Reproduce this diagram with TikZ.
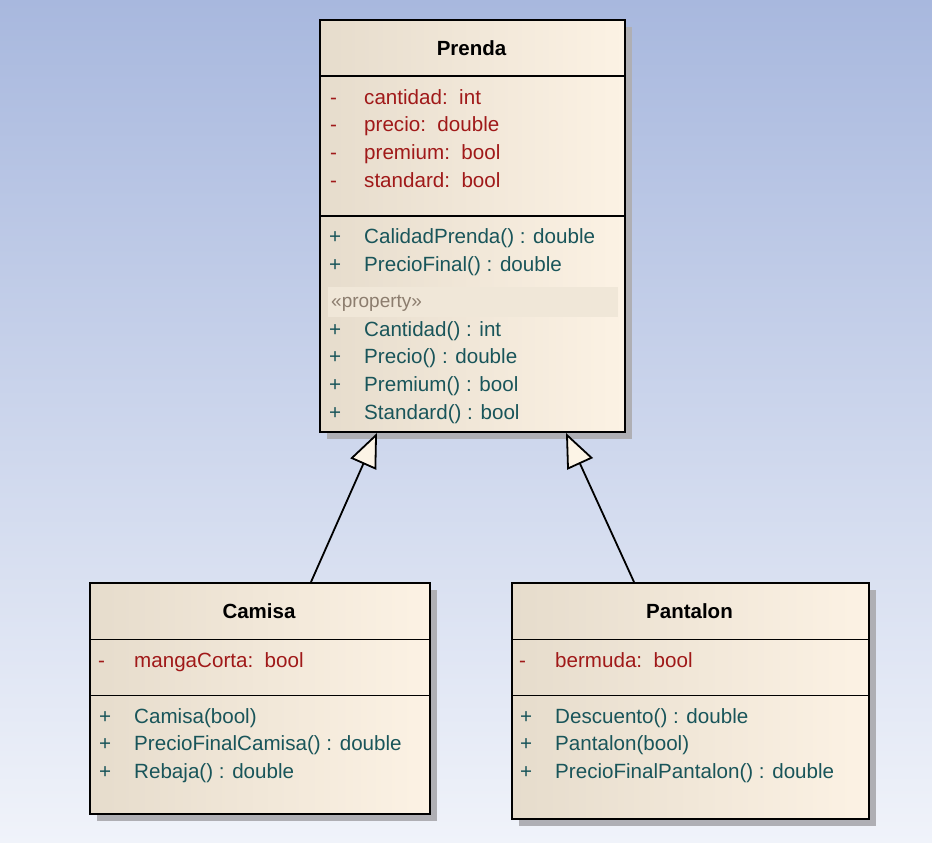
\documentclass[tikz,border=0pt]{standalone}
\usepackage{fontspec}
\setmainfont{Liberation Sans}
\usetikzlibrary{arrows.meta,shadows}
\definecolor{bgtop}{RGB}{168,184,222}
\definecolor{bgbot}{RGB}{240,243,250}
\definecolor{boxleft}{RGB}{230,220,204}
\definecolor{boxright}{RGB}{252,242,228}
\definecolor{attrc}{RGB}{160,25,25}
\definecolor{methc}{RGB}{25,85,90}
\definecolor{propc}{RGB}{140,125,110}
\definecolor{propband}{RGB}{240,231,216}
\definecolor{tipc}{RGB}{252,244,230}
\definecolor{shadowc}{RGB}{175,175,180}
\tikzset{
  classbox/.style={draw=black, line width=2pt, inner sep=0pt, anchor=north west,
    left color=boxleft, right color=boxright,
    drop shadow={shadow xshift=7pt, shadow yshift=-7pt, fill=shadowc, opacity=1}},
  sepline/.style={draw=black, line width=1.9pt},
  txt/.style={anchor=base west, inner sep=0pt, font=\fontsize{20.6}{24}\selectfont},
  ttl/.style={anchor=base, inner sep=0pt, font=\fontsize{20.5}{24}\selectfont\bfseries},
  attr/.style={txt, text=attrc},
  meth/.style={txt, text=methc},
  prop/.style={anchor=base west, inner sep=0pt, text=propc, font=\fontsize{19}{22}\selectfont},
  inherit/.style={draw=black, line width=1.8pt, -{Triangle[length=34pt,width=28pt,fill=tipc]}}
}
\begin{document}
\begin{tikzpicture}[x=1pt,y=-1pt]
\useasboundingbox (0,0) rectangle (932,843);
\shade[top color=bgtop, bottom color=bgbot] (0,0) rectangle (932,843);

% ---------- Prenda ----------
\node[classbox, minimum width=305pt, minimum height=412pt] (prenda) at (319,19) {};
\fill[propband] (328,287) rectangle (618,317);
\draw[sepline] (prenda.west |- 0,76) -- (prenda.east |- 0,76);
\draw[sepline] (prenda.west |- 0,216) -- (prenda.east |- 0,216);
\node[ttl] (prendat) at (471.5,56) {Prenda};
\node[attr] (pa1s) at (330,104) {-};
\node[attr] (pa1) at (364,104) {cantidad:\ \ int};
\node[attr] (pa2s) at (330,131.7) {-};
\node[attr] (pa2) at (364,131.7) {precio:\ \ double};
\node[attr] (pa3s) at (330,159.4) {-};
\node[attr] (pa3) at (364,159.4) {premium:\ \ bool};
\node[attr] (pa4s) at (330,187.1) {-};
\node[attr] (pa4) at (364,187.1) {standard:\ \ bool};
\node[meth] (pm1s) at (329,243) {+};
\node[meth] (pm1) at (364,243) {CalidadPrenda() : double};
\node[meth] (pm2s) at (329,271) {+};
\node[meth] (pm2) at (364,271) {PrecioFinal() : double};
\node[prop] (pprop) at (331,307) {«property»};
\node[meth] (pm3s) at (329,336) {+};
\node[meth] (pm3) at (364,336) {Cantidad() : int};
\node[meth] (pm4s) at (329,363.5) {+};
\node[meth] (pm4) at (364,363.5) {Precio() : double};
\node[meth] (pm5s) at (329,391.5) {+};
\node[meth] (pm5) at (364,391.5) {Premium() : bool};
\node[meth] (pm6s) at (329,419.5) {+};
\node[meth] (pm6) at (364,419.5) {Standard() : bool};

% ---------- Camisa ----------
\node[classbox, minimum width=340pt, minimum height=231pt] (camisa) at (89,582) {};
\draw[sepline] (camisa.west |- 0,639.5) -- (camisa.east |- 0,639.5);
\draw[sepline] (camisa.west |- 0,695.5) -- (camisa.east |- 0,695.5);
\node[ttl] (camisat) at (259,618) {Camisa};
\node[attr] (ca1s) at (98,667) {-};
\node[attr] (ca1) at (134,667) {mangaCorta:\ \ bool};
\node[meth] (cm1s) at (99,723) {+};
\node[meth] (cm1) at (134,723) {Camisa(bool)};
\node[meth] (cm2s) at (99,750.5) {+};
\node[meth] (cm2) at (134,750.5) {PrecioFinalCamisa() : double};
\node[meth] (cm3s) at (99,778.5) {+};
\node[meth] (cm3) at (134,778.5) {Rebaja() : double};

% ---------- Pantalon ----------
\node[classbox, minimum width=357pt, minimum height=236pt] (pantalon) at (511,582) {};
\draw[sepline] (pantalon.west |- 0,639.5) -- (pantalon.east |- 0,639.5);
\draw[sepline] (pantalon.west |- 0,695.5) -- (pantalon.east |- 0,695.5);
\node[ttl] (pantalont) at (689.5,618) {Pantalon};
\node[attr] (pa1s2) at (519,667) {-};
\node[attr] (pba1) at (555,667) {bermuda:\ \ bool};
\node[meth] (pbm1s) at (520,723) {+};
\node[meth] (pbm1) at (555,723) {Descuento() : double};
\node[meth] (pbm2s) at (520,750.5) {+};
\node[meth] (pbm2) at (555,750.5) {Pantalon(bool)};
\node[meth] (pbm3s) at (520,778.5) {+};
\node[meth] (pbm3) at (555,778.5) {PrecioFinalPantalon() : double};

% ---------- Generalizations ----------
\draw[inherit] ([xshift=222pt]camisa.north west) -- ([xshift=58pt]prenda.south west);
\draw[inherit] ([xshift=123pt]pantalon.north west) -- ([xshift=247pt]prenda.south west);
\end{tikzpicture}
\end{document}
